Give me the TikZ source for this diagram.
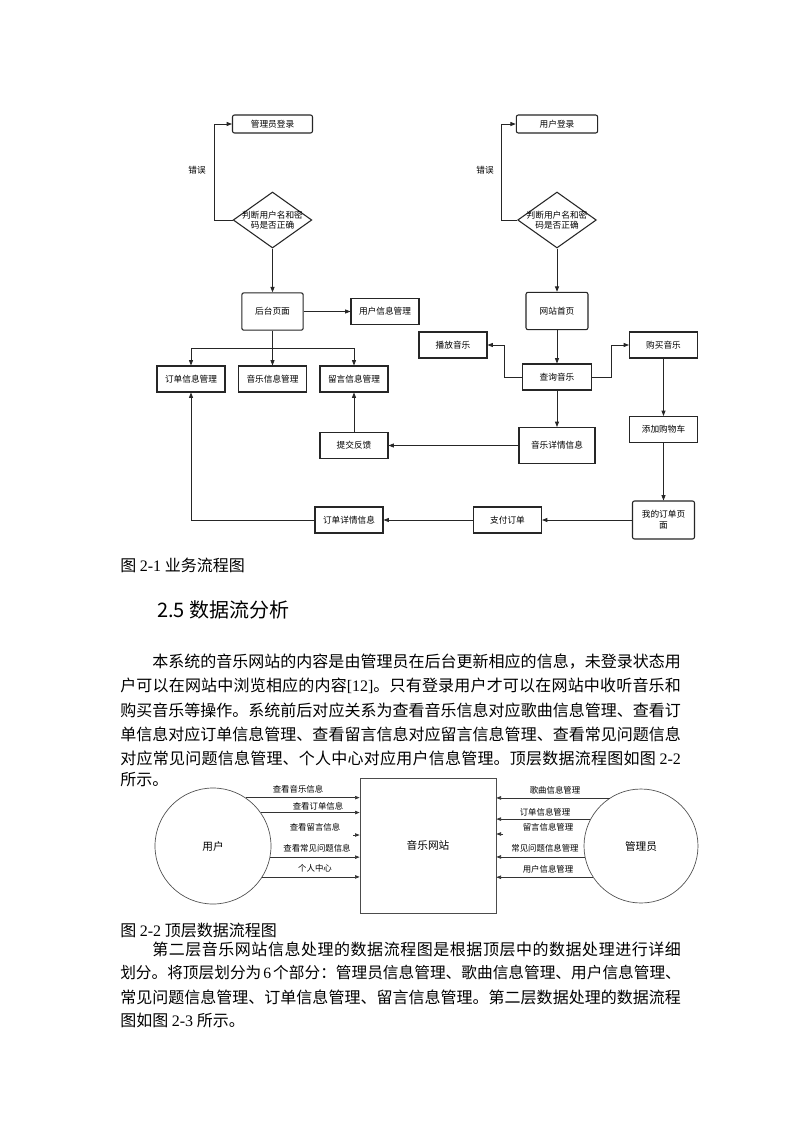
\documentclass[tikz,border=0pt]{standalone}
\usepackage{fontspec}
\setmainfont{Liberation Serif}
\newfontfamily\cjk{Noto Sans CJK SC}
\usetikzlibrary{arrows.meta,positioning,calc,shapes.geometric}
\XeTeXlinebreaklocale "zh"
\XeTeXlinebreakskip=0pt plus 2pt
\newcommand{\lat}[1]{{\rmfamily #1}}
\newcommand{\jline}[1]{\parbox{420.5pt}{\XeTeXlinebreakpenalty=10000\relax\parfillskip=0pt\relax\noindent #1}}

\begin{document}
\begin{tikzpicture}[x=0.75pt, y=-0.75pt,
    box/.style={draw=black!85, line width=0.8pt, minimum width=51pt, minimum height=19.5pt, inner sep=1pt, font=\cjk\fontsize{6.5}{8}\selectfont},
    rbox/.style={box, rounded corners=1.5pt},
    decide/.style={draw=black!85, line width=0.8pt, diamond, minimum width=59pt, minimum height=42pt, inner sep=0pt},
    arr/.style={-{Triangle[length=4pt,width=3pt]}, line width=0.6pt, black!85},
    flow/.style={line width=0.6pt, black!85},
    small/.style={font=\cjk\fontsize{6.5}{8}\selectfont, inner sep=0pt},
    ent/.style={draw=black!70, circle, line width=0.5pt, minimum size=87pt, font=\cjk\fontsize{8}{9}\selectfont},
    darr/.style={-{Triangle[length=3.5pt,width=2.6pt]}, line width=0.5pt, black!80},
    dlbl/.style={font=\cjk\fontsize{6.3}{7}\selectfont, inner sep=0pt},
    para/.style={anchor=west, inner sep=0pt, font=\cjk\fontsize{12}{14}\selectfont},
]
\fill[white] (0,0) rectangle (793,1122);
\useasboundingbox (0,0) rectangle (793,1122);

% Admin side
\node[rbox, minimum width=60pt, minimum height=13.5pt] (alog) at (272.5,124) {管理员登录};
\node[decide] (achk) at (272.5,220) {};
\node[small, align=center] (achkt) at (achk) {判断用户名和密\\码是否正确};
\node[rbox, minimum width=46pt, minimum height=28pt] (back) at (272.5,311.5) {后台页面};
\node[box] (umgr) at (385,311.5) {用户信息管理};
\node[box] (omgr) at (191,379) {订单信息管理};
\node[box] (mmgr) at (272.5,379) {音乐信息管理};
\node[box] (cmgr) at (354,379) {留言信息管理};
\node[box] (fb) at (354,445.5) {提交反馈};
\node[box] (odet) at (349,520) {订单详情信息};
\node[small] (aerr) at (197,170) {错误};

% User side
\node[rbox, minimum width=61pt, minimum height=13.5pt] (ulog) at (557,124) {用户登录};
\node[decide] (uchk) at (557,220) {};
\node[small, align=center] (uchkt) at (uchk) {判断用户名和密\\码是否正确};
\node[rbox, minimum width=46.5pt, minimum height=28pt] (home) at (557,311) {网站首页};
\node[box] (play) at (453,345) {播放音乐};
\node[box, minimum width=52pt] (query) at (557,377) {查询音乐};
\node[box] (buy) at (663.5,345) {购买音乐};
\node[box, minimum width=57pt, minimum height=27pt] (mdet) at (557,445.5) {音乐详情信息};
\node[box] (cart) at (663.5,429.5) {添加购物车};
\node[rbox, minimum width=46.5pt, minimum height=28.5pt, align=center] (mine) at (663.5,520) {我的订单页\\面};
\node[box] (pay) at (507.5,520) {支付订单};
\node[small] (uerr) at (485,170) {错误};

% Flow arrows
\draw[arr] (achk.west) -- ++(-18,0) |- (alog.west);
\draw[arr] (achk.south) -- (back.north);
\draw[arr] (back.east) -- (umgr.west);
\draw[flow] (back.south) -- ++(0,18) coordinate (split);
\draw[arr] (split) -| (omgr.north);
\draw[arr] (split) -| (cmgr.north);
\draw[arr] (split) -- (mmgr.north);
\draw[arr] (fb.north) -- (cmgr.south);
\draw[arr] (odet.west) -| (omgr.south);

\draw[arr] (uchk.west) -- ++(-16,0) |- (ulog.west);
\draw[arr] (uchk.south) -- (home.north);
\draw[arr] (home.south) -- (query.north);
\draw[arr] (query.west) -- ++(-17,0) |- (play.east);
\draw[arr] (query.east) -- ++(19,0) |- (buy.west);
\draw[arr] (query.south) -- (mdet.north);
\draw[arr] (mdet.west) -- (fb.east);
\draw[arr] (buy.south) -- (cart.north);
\draw[arr] (cart.south) -- (mine.north);
\draw[arr] (mine.west) -- (pay.east);
\draw[arr] (pay.west) -- (odet.east);

% Text
\node[para] (cap1) at (120,565) {图 \lat{2-1} 业务流程图};
\node[para, font=\cjk\fontsize{15}{18}\selectfont] (sec) at (157,610) {2.5 数据流分析};
\node[para] (p1a) at (120,662) {\jline{\hspace*{24pt}本系统的音乐网站的内容是由管理员在后台更新相应的信息，未登录状态用}};
\node[para] (p1b) at (120,686) {\jline{户可以在网站中浏览相应的内容\lat{[12]}。只有登录用户才可以在网站中收听音乐和}};
\node[para] (p1c) at (120,710) {\jline{购买音乐等操作。系统前后对应关系为查看音乐信息对应歌曲信息管理、查看订}};
\node[para] (p1d) at (120,734) {\jline{单信息对应订单信息管理、查看留言信息对应留言信息管理、查看常见问题信息}};
\node[para] (p1e) at (120,758) {\jline{对应常见问题信息管理、个人中心对应用户信息管理。顶层数据流程图如图~\lat{2-2}}};
\node[para] (p1f) at (120,780) {所示。};

% Top level data flow
\node[ent] (user) at (213,846) {用户};
\node[draw=black!70, line width=0.5pt, minimum width=102pt, minimum height=101pt, font=\cjk\fontsize{8}{9}\selectfont] (site) at (428,845.5) {音乐网站};
\node[ent, minimum size=85.5pt] (admin) at (641,846) {管理员};

\foreach \a in {56,35,-11,-32}
  \draw[darr] (user.\a) -- (user.\a -| site.west);
\foreach \a in {123,152,191,213}
  \draw[darr] (admin.\a) -- (admin.\a -| site.east);
\coordinate (q1) at (353,835);
\coordinate (q2) at (503,834);
\draw[darr] (q1) -- (q1 -| site.west);
\draw[darr] (q2) -- (q2 -| site.east);

\node[dlbl] (l1) at (298,789) {查看音乐信息};
\node[dlbl] (l2) at (318,806) {查看订单信息};
\node[dlbl] (l3) at (315,827) {查看留言信息};
\node[dlbl] (l4) at (317,848) {查看常见问题信息};
\node[dlbl] (l5) at (315,868) {个人中心};
\node[dlbl] (r1) at (555,790) {歌曲信息管理};
\node[dlbl] (r2) at (545,812) {订单信息管理};
\node[dlbl] (r3) at (548,827) {留言信息管理};
\node[dlbl] (r4) at (545,848) {常见问题信息管理};
\node[dlbl] (r5) at (548,869) {用户信息管理};

\node[para] (cap2) at (120,930) {图 \lat{2-2} 顶层数据流程图};
\node[para] (p2a) at (120,949) {\jline{\hspace*{24pt}第二层音乐网站信息处理的数据流程图是根据顶层中的数据处理进行详细}};
\node[para, font=\cjk\fontsize{11.75}{14}\selectfont] (p2b) at (120,973) {\jline{划分。将顶层划分为\kern1.5pt\lat{6}\kern1.5pt个部分：管理员信息管理、歌曲信息管理、用户信息管理、}};
\node[para] (p2c) at (120,997) {\jline{常见问题信息管理、订单信息管理、留言信息管理。第二层数据处理的数据流程}};
\node[para] (p2d) at (120,1020) {图如图 \lat{2-3} 所示。};
\end{tikzpicture}
\end{document}
